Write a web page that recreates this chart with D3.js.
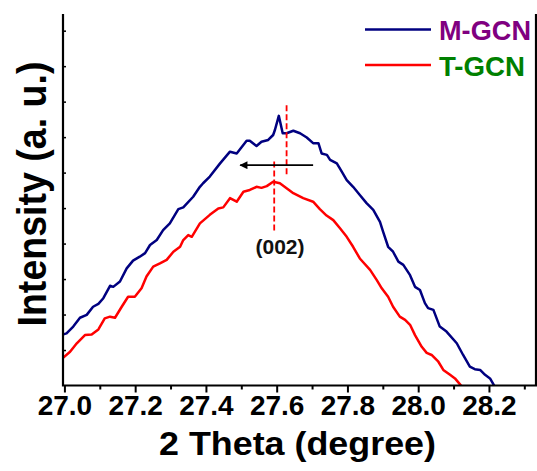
<!DOCTYPE html>
<html>
<head>
<meta charset="utf-8">
<script src="https://cdn.jsdelivr.net/npm/d3@7"></script>
<style>
  body { margin: 0; background: #fff; }
  svg text { font-family: Arial, "Liberation Sans", sans-serif; font-weight: bold; }
</style>
</head>
<body>
<div id="chart"></div>
<script>
(function(){

        // 2 theta (degree)
        const mTheta = [26.997, 27.006, 27.025, 27.044, 27.063, 27.081, 27.096, 27.110, 27.129, 27.138,
            27.157, 27.176, 27.194, 27.213, 27.228, 27.242, 27.261, 27.279, 27.298, 27.322,
            27.336, 27.364, 27.383, 27.392, 27.411, 27.440, 27.468, 27.487, 27.515, 27.524,
            27.543, 27.557, 27.576, 27.590, 27.595, 27.606, 27.617, 27.628, 27.647, 27.666,
            27.685, 27.703, 27.718, 27.727, 27.742, 27.751, 27.770, 27.784, 27.798, 27.816,
            27.835, 27.854, 27.873, 27.892, 27.901, 27.915, 27.929, 27.944, 27.958, 27.977,
            27.991, 28.005, 28.019, 28.028, 28.043, 28.061, 28.080, 28.109, 28.127, 28.146,
            28.160, 28.175, 28.189, 28.203, 28.214, 28.225];
        const mIntensity = [144, 147, 166, 191, 199, 222, 230, 246, 281, 278,
            293, 330, 352, 363, 373, 396, 410, 438, 457, 497,
            502, 532, 560, 570, 589, 626, 659, 654, 690, 690,
            675, 687, 692, 706, 720, 760, 711, 711, 718, 711,
            699, 683, 683, 654, 650, 636, 626, 603, 579, 560,
            537, 514, 495, 461, 433, 391, 377, 349, 340, 311,
            278, 269, 232, 218, 213, 166, 152, 119, 86, 53,
            46, 44, 30, 20, 1, -20];

        const tTheta = [26.997, 27.016, 27.035, 27.058, 27.077, 27.096, 27.114, 27.129, 27.143, 27.162,
            27.180, 27.199, 27.218, 27.232, 27.251, 27.270, 27.289, 27.308, 27.327, 27.336,
            27.350, 27.360, 27.383, 27.411, 27.435, 27.449, 27.468, 27.487, 27.506, 27.524,
            27.543, 27.557, 27.572, 27.590, 27.609, 27.628, 27.647, 27.675, 27.703, 27.722,
            27.741, 27.760, 27.779, 27.798, 27.816, 27.835, 27.864, 27.883, 27.897, 27.915,
            27.929, 27.948, 27.963, 27.977, 27.991, 28.010, 28.024, 28.038, 28.057, 28.071,
            28.090, 28.104, 28.120, 28.130];
        const tIntensity = [79, 95, 119, 142, 144, 158, 189, 194, 191, 222,
            250, 250, 274, 307, 335, 344, 354, 377, 391, 410,
            424, 419, 457, 481, 499, 502, 528, 518, 546, 551,
            560, 557, 562, 574, 570, 556, 542, 528, 518, 497,
            479, 466, 443, 419, 391, 358, 326, 297, 274, 250,
            222, 194, 185, 171, 142, 109, 92, 86, 67, 44,
            30, 20, 1, -15];

        const seriesNames = ["M-GCN", "T-GCN"];
        const xTicks = [27.0, 27.2, 27.4, 27.6, 27.8, 28.0, 28.2];
        const xMinorTicks = [27.1, 27.3, 27.5, 27.7, 27.9, 28.1, 28.3];
        const yTicks = [100, 200, 300, 400, 500, 600, 700, 800, 900, 1000];

        // (002) peak markers: [theta, from, to]
        const peakLines = [[27.628, 790, 588], [27.593, 631, 433]];
        const shiftArrow = { from: 27.703, to: 27.497, level: 621 };

        const width = 537, height = 471;
        const margin = { top: 14, right: 1, bottom: 85.5, left: 63 };

        const svg = d3.select("#chart")
            .append("svg")
            .attr("width", width)
            .attr("height", height);

        const x = d3.scaleLinear()
            .domain([26.996, 28.333])
            .range([margin.left, width - margin.right]);
        const y = d3.scaleLinear()
            .domain([0, 1047])
            .range([height - margin.bottom, margin.top]);

        svg.append("clipPath").attr("id", "plot-clip")
            .append("rect")
            .attr("x", margin.left)
            .attr("y", margin.top)
            .attr("width", width - margin.left - margin.right)
            .attr("height", height - margin.top - margin.bottom);

        const line = d3.line()
            .x(d => x(d[0]))
            .y(d => y(d[1]));

        const series = [
            { name: seriesNames[0], color: "#000080", pts: d3.zip(mTheta, mIntensity) },
            { name: seriesNames[1], color: "#ff0000", pts: d3.zip(tTheta, tIntensity) }
        ];

        svg.append("g")
            .attr("clip-path", "url(#plot-clip)")
            .selectAll("path")
            .data(series)
            .enter()
            .append("path")
            .attr("fill", "none")
            .attr("stroke", d => d.color)
            .attr("stroke-width", 2.5)
            .attr("stroke-linejoin", "round")
            .attr("d", d => line(d.pts));

        // dashed peak positions
        svg.selectAll(".peak")
            .data(peakLines)
            .enter()
            .append("line")
            .attr("class", "peak")
            .attr("x1", d => x(d[0]))
            .attr("x2", d => x(d[0]))
            .attr("y1", d => y(d[1]))
            .attr("y2", d => y(d[2]))
            .attr("stroke", "#ff0000")
            .attr("stroke-width", 1.8)
            .attr("stroke-dasharray", "6,3");

        // shift arrow
        svg.append("defs").append("marker")
            .attr("id", "head")
            .attr("viewBox", "0 0 10 10")
            .attr("refX", 9).attr("refY", 5)
            .attr("markerWidth", 6).attr("markerHeight", 5)
            .attr("markerUnits", "strokeWidth")
            .attr("orient", "auto")
            .append("path")
            .attr("d", "M0,0L10,5L0,10Z")
            .attr("fill", "#000");

        svg.append("line")
            .attr("x1", x(shiftArrow.from))
            .attr("x2", x(shiftArrow.to))
            .attr("y1", y(shiftArrow.level))
            .attr("y2", y(shiftArrow.level))
            .attr("stroke", "#000")
            .attr("stroke-width", 1.6)
            .attr("marker-end", "url(#head)");

        svg.append("text")
            .attr("x", 280)
            .attr("y", 254)
            .attr("text-anchor", "middle")
            .attr("font-size", 21)
            .attr("fill", "#111")
            .text("(002)");

        // axes
        const xAxis = svg.append("g")
            .attr("transform", `translate(0,${y(0)})`)
            .call(d3.axisBottom(x).tickValues(xTicks).tickSize(7).tickPadding(3)
                .tickFormat(d3.format(".1f")));
        xAxis.select(".domain").remove();
        xAxis.selectAll("line").attr("stroke", "#000").attr("stroke-width", 2);
        xAxis.selectAll("text")
            .attr("font-size", 28)
            .attr("fill", "#000");

        svg.append("g")
            .attr("transform", `translate(0,${y(0)})`)
            .call(d3.axisBottom(x).tickValues(xMinorTicks).tickSize(4).tickFormat(""))
            .call(g => g.select(".domain").remove())
            .selectAll("line").attr("stroke", "#000").attr("stroke-width", 2);

        svg.append("g")
            .attr("transform", `translate(${margin.left},0)`)
            .call(d3.axisLeft(y).tickValues(yTicks).tickSize(-3).tickFormat(""))
            .call(g => g.select(".domain").remove())
            .selectAll("line").attr("stroke", "#000").attr("stroke-width", 1.5);

        // frame: left, bottom, right
        svg.append("path")
            .attr("d", `M${margin.left},${margin.top}V${y(0)}H${width - margin.right}V${margin.top}`)
            .attr("fill", "none")
            .attr("stroke", "#000")
            .attr("stroke-width", 2.2);

        // axis titles
        svg.append("text")
            .attr("x", 297.5)
            .attr("y", 455)
            .attr("text-anchor", "middle")
            .attr("font-size", 33)
            .attr("textLength", 277)
            .attr("lengthAdjust", "spacingAndGlyphs")
            .text("2 Theta (degree)");

        svg.append("text")
            .attr("transform", "translate(46,194) rotate(-90)")
            .attr("text-anchor", "middle")
            .attr("font-size", 40)
            .attr("textLength", 265)
            .attr("lengthAdjust", "spacingAndGlyphs")
            .text("Intensity (a. u.)");

        // legend
        const legendColors = ["#800080", "#008000"];
        const legendWidths = [92, 86];
        const legend = svg.selectAll(".legend")
            .data(series)
            .enter()
            .append("g")
            .attr("class", "legend")
            .attr("transform", (d, i) => `translate(365,${29.5 + i * 35.5})`);
        legend.append("line")
            .attr("x1", 0).attr("x2", 66)
            .attr("stroke", d => d.color)
            .attr("stroke-width", 2.5);
        legend.append("text")
            .attr("x", 74)
            .attr("y", 10.5)
            .attr("font-size", 28.5)
            .attr("textLength", (d, i) => legendWidths[i])
            .attr("lengthAdjust", "spacingAndGlyphs")
            .attr("fill", (d, i) => legendColors[i])
            .text(d => d.name);

})();
</script>
</body>
</html>
